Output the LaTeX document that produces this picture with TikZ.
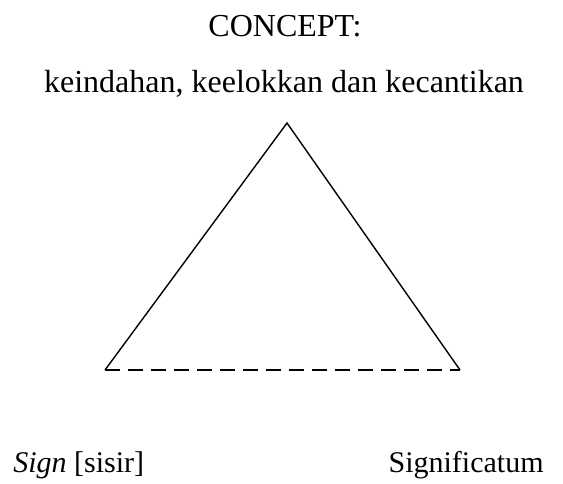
\documentclass[tikz,border=0pt]{standalone}
\usepackage{fontspec}
\setmainfont{Liberation Serif}
\usetikzlibrary{positioning}

\begin{document}
\begin{tikzpicture}[
        x=0.5pt, y=-0.5pt,
        lbl/.style={font=\fontsize{16}{19}\selectfont, inner sep=0pt, anchor=base},
        corner/.style={font=\fontsize{15}{18}\selectfont, inner sep=0pt},
        side/.style={line width=0.7pt, black},
        base/.style={side, dash pattern=on 7.5pt off 4pt},
      ]
      \useasboundingbox (0,0) rectangle (563,483);

      % === labels at the top ===
      \node[lbl] (concept) at (285, 36) {CONCEPT:};
      \node[lbl] (meaning) at (284, 92) {keindahan, keelokkan dan kecantikan};

      % === triangle ===
      \coordinate (apex) at (287, 123);
      \coordinate (left) at (105, 370);
      \coordinate (right) at (460, 370);

      \draw[side] (left) -- (apex) -- (right);
      \draw[base] (left) -- (right);

      % === labels at the bottom ===
      \node[corner, anchor=base west] (sign) at (13, 472) {\textit{Sign} [sisir]};
      \node[corner, anchor=base east] (signif) at (544, 472) {Significatum};

      \end{tikzpicture}
\end{document}
